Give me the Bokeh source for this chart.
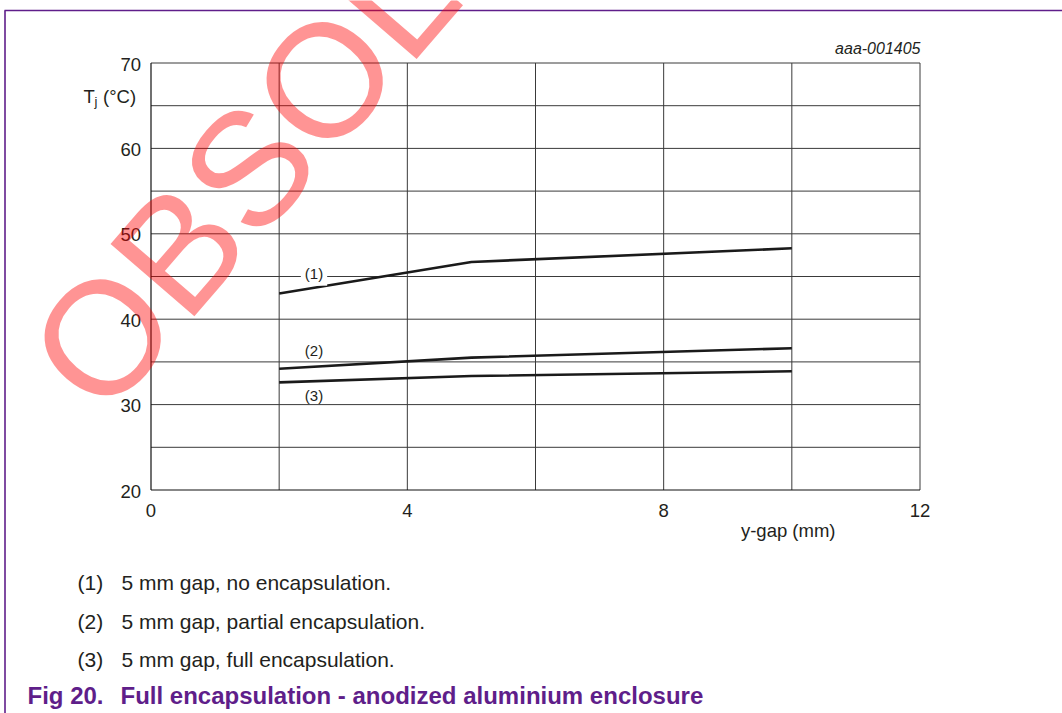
from bokeh.plotting import figure
from bokeh.models import Label, Range1d
from bokeh.core.properties import value
from bokeh.embed import file_html
from bokeh.resources import INLINE

# ---------------- data ----------------
x_gap = [2, 5, 10]
tj_no_encap = [43.0, 46.7, 48.3]
tj_partial = [34.2, 35.5, 36.6]
tj_full = [32.6, 33.35, 33.9]
series = [tj_no_encap, tj_partial, tj_full]
series_labels = ["(1)", "(2)", "(3)"]
note_texts = ["5 mm gap, no encapsulation.",
              "5 mm gap, partial encapsulation.",
              "5 mm gap, full encapsulation."]
x_ticks = [0, 4, 8, 12]
y_ticks = [20, 30, 40, 50, 60, 70]
x_grid = [2, 4, 6, 8, 10, 12]
y_grid = [25, 30, 35, 40, 45, 50, 55, 60, 65, 70]
x_title = "y-gap (mm)"
fig_id = "aaa-001405"
caption_num = "Fig 20."
caption_text = "Full encapsulation - anodized aluminium enclosure"
watermark = "OBSOLETE"

# ---------------- layout ----------------
W, H = 1062, 713
FL, FT, FW, FH = 150.5, 62.5, 769, 427     # plot box in canvas pixels
X0, X1, Y0, Y1 = 0, 12, 20, 70
FONT = "Liberation Sans"
PURPLE = "#5f1e8a"
INK = "#231f20"
GRID = "#3a3a3a"


def dx(px):
    return X0 + (px - FL) * (X1 - X0) / FW


def dy(py):
    return Y1 - (py - FT) * (Y1 - Y0) / FH


def lab(text, px, py, size, align="left", baseline="middle", **kw):
    kw.setdefault("text_color", INK)
    return Label(x=dx(px), y=dy(py), text=text, text_font=FONT,
                 text_font_size=size, text_align=align,
                 text_baseline=baseline, **kw)


p = figure(width=W, height=H, output_backend="svg", toolbar_location=None,
           x_axis_type=None, y_axis_type=None,
           x_range=Range1d(dx(0), dx(W)), y_range=Range1d(dy(H), dy(0)),
           min_border=0)
p.min_border_left = p.min_border_right = 0
p.min_border_top = p.min_border_bottom = 0
p.background_fill_color = "white"
p.border_fill_color = "white"
p.outline_line_color = None

# grid lines
p.segment(x0=x_grid, y0=[Y0] * len(x_grid), x1=x_grid, y1=[Y1] * len(x_grid),
          line_color=GRID, line_width=1)
p.segment(x0=[X0] * len(y_grid), y0=y_grid, x1=[X1] * len(y_grid), y1=y_grid,
          line_color=GRID, line_width=1)
# axis lines
p.segment(x0=[X0, X0], y0=[Y0, Y0], x1=[X0, X1], y1=[Y1, Y0],
          line_color="#111111", line_width=1.2)

# tick labels
p.text(x=x_ticks, y=[Y0] * len(x_ticks), text=[str(t) for t in x_ticks],
       text_font=value(FONT), text_font_size="18.5px", text_color=INK,
       text_align="center", text_baseline="middle", y_offset=20)
p.text(x=[X0] * len(y_ticks), y=y_ticks, text=[str(t) for t in y_ticks],
       text_font=value(FONT), text_font_size="18.5px", text_color=INK,
       text_align="right", text_baseline="middle", x_offset=-10,
       y_offset=1)

# data lines
for ys in series:
    p.line(x_gap, ys, line_color="#1a1a1a", line_width=2.6)

# curve labels
lab_pos = [(313.5, 272.7), (313.5, 350.0), (313.5, 394.5)]
lab_bg = ["white", None, None]
for txt, (px, py), bg in zip(series_labels, lab_pos, lab_bg):
    p.add_layout(lab(txt, px, py, "15px", align="center",
                     background_fill_color=bg, padding=4))

# y axis title  T_j (°C)
p.add_layout(lab("T", 83, 96, "18.5px"))
p.add_layout(lab("j", 94, 101, "13px"))
p.add_layout(lab("(°C)", 102.5, 96, "18.5px"))

# x axis title
p.add_layout(lab(x_title, 835, 530, "18.5px", align="right"))

# figure id
p.add_layout(lab(fig_id, 920, 48, "16px", align="right",
                 text_font_style="italic"))

# notes
for i, (num, txt) in enumerate(zip(series_labels, note_texts)):
    yc = 582 + 38.5 * i
    p.add_layout(lab(num, 77, yc, "21px"))
    p.add_layout(lab(txt, 121, yc, "21px"))

# caption
p.add_layout(lab(caption_num, 27, 695, "24px", text_font_style="bold",
                 text_color=PURPLE))
p.add_layout(lab(caption_text, 120, 695, "24px", text_font_style="bold",
                 text_color=PURPLE))

# purple frame lines
p.segment(x0=[dx(4), dx(4.5)], y0=[dy(10), dy(10)],
          x1=[dx(W), dx(4.5)], y1=[dy(10), dy(H)],
          line_color=PURPLE, line_width=1.6)

# watermark
p.add_layout(lab(watermark, 61, 384, "161px", baseline="alphabetic",
                 angle=49.2, angle_units="deg",
                 text_color="#ff0000", text_alpha=0.42))

open("out.html", "w").write(file_html(p, INLINE))
